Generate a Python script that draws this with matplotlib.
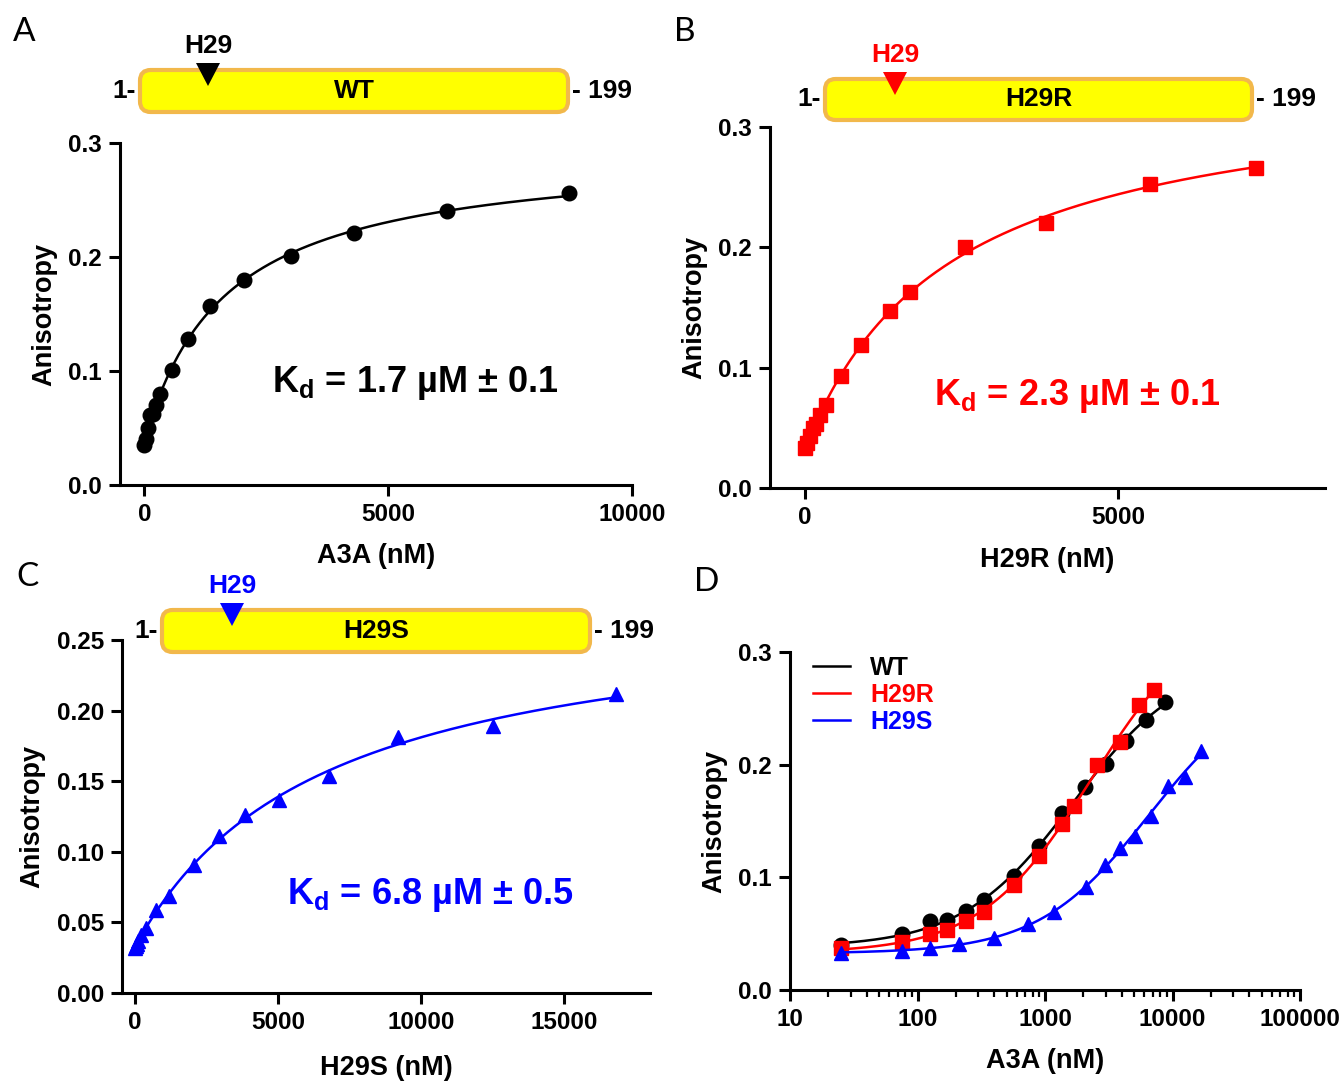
import numpy as np
import matplotlib
matplotlib.use("Agg")
import matplotlib.pyplot as plt
from matplotlib.patches import FancyBboxPatch, Polygon
from matplotlib.lines import Line2D

plt.rcParams['font.family'] = ['Liberation Sans', 'DejaVu Sans']
plt.rcParams['font.weight'] = 'bold'
plt.rcParams['mathtext.fontset'] = 'custom'
plt.rcParams['mathtext.rm'] = 'Liberation Sans:bold'
plt.rcParams['mathtext.it'] = 'Liberation Sans:bold'
plt.rcParams['mathtext.bf'] = 'Liberation Sans:bold'

# DATA
wt_conc = [0, 25, 75, 125, 170, 240, 330, 570, 900, 1350, 2050, 3000, 4300, 6200, 8700]
wt_aniso = [0.035, 0.040, 0.050, 0.061, 0.062, 0.070, 0.080, 0.101, 0.128, 0.157, 0.180, 0.201, 0.221, 0.240, 0.256]

h29r_conc = [0, 25, 75, 125, 170, 240, 330, 570, 900, 1350, 1680, 2550, 3850, 5500, 7200]
h29r_aniso = [0.033, 0.037, 0.043, 0.050, 0.053, 0.061, 0.069, 0.093, 0.119, 0.147, 0.163, 0.200, 0.220, 0.253, 0.266]

h29s_conc = [0, 25, 75, 125, 210, 400, 740, 1180, 2080, 2930, 3850, 5050, 6800, 9200, 12500, 16800]
h29s_aniso = [0.032, 0.033, 0.035, 0.037, 0.041, 0.046, 0.059, 0.069, 0.091, 0.111, 0.126, 0.137, 0.154, 0.181, 0.189, 0.212]

kd_labels = ['1.7 µM ± 0.1', '2.3 µM ± 0.1', '6.8 µM ± 0.5']
names = ['WT', 'H29R', 'H29S']
colors = ['black', '#FF0000', '#0000FF']
markers = ['o', 's', '^']

TICK_FS = 17.5
LABEL_FS = 19.5
W, H = 1341, 1085
fig = plt.figure(figsize=(W/100, H/100), dpi=100)


def box(l, r, t, b):
    return [l/W, 1 - b/H, (r - l)/W, (b - t)/H]


# FIT: one site binding, A = A0 + dA*x/(Kd+x), grid over Kd
def fit_binding(x, y):
    x = np.array(x, float)
    y = np.array(y, float)
    best = None
    for kd in np.logspace(2, 5, 3000):
        M = np.column_stack([np.ones_like(x), x/(kd + x)])
        coef = np.linalg.lstsq(M, y, rcond=None)[0]
        err = np.sum((M @ coef - y)**2)
        if best is None or err < best[0]:
            best = (err, kd, coef)
    return best[1], best[2]


def model(x, kd, coef):
    return coef[0] + coef[1]*x/(kd + x)


def style_axes(ax):
    for s in ['top', 'right']:
        ax.spines[s].set_visible(False)
    for s in ['left', 'bottom']:
        ax.spines[s].set_linewidth(2.2)
    ax.tick_params(which='major', direction='out', length=8, width=2.2, labelsize=TICK_FS, pad=5)
    ax.tick_params(which='minor', direction='out', length=5, width=1.6)
    for lab in ax.get_xticklabels() + ax.get_yticklabels():
        lab.set_fontweight('bold')


data = [(wt_conc, wt_aniso), (h29r_conc, h29r_aniso), (h29s_conc, h29s_aniso)]
fits = [fit_binding(c, a) for c, a in data]

# panel boxes (l, r, t, b) in pixels
boxes = [(120, 632, 143, 485), (770, 1325, 127, 488), (122, 650, 640, 993)]
xlims = [(-500, 10000), (-560, 8300), (-450, 18000)]
ylims = [(0, 0.3), (0, 0.3), (0, 0.25)]
yticks = [[0.0, 0.1, 0.2, 0.3], [0.0, 0.1, 0.2, 0.3], [0.0, 0.05, 0.10, 0.15, 0.20, 0.25]]
yfmt = ['{:.1f}', '{:.1f}', '{:.2f}']
xticks = [[0, 5000, 10000], [0, 5000], [0, 5000, 10000, 15000]]
xlabels = ['A3A (nM)', 'H29R (nM)', 'H29S (nM)']
xlabpad = [12, 13, 15]
kd_pos = [(415, 383), (1077, 396), (430, 895)]

for i in range(3):
    ax = fig.add_axes(box(*boxes[i]))
    conc, aniso = data[i]
    kd, coef = fits[i]
    xx = np.linspace(0, max(conc), 400)
    ax.plot(xx, model(xx, kd, coef), color=colors[i], linewidth=1.8, clip_on=False)
    ax.plot(conc, aniso, linestyle='none', marker=markers[i], markersize=10.5,
            color=colors[i], clip_on=False)
    ax.set_xlim(*xlims[i])
    ax.set_ylim(*ylims[i])
    ax.set_xticks(xticks[i])
    ax.set_yticks(yticks[i])
    ax.set_yticklabels([yfmt[i].format(v) for v in yticks[i]])
    ax.set_xlabel(xlabels[i], fontsize=LABEL_FS, fontweight='bold', labelpad=xlabpad[i])
    ax.set_ylabel('Anisotropy', fontsize=LABEL_FS, fontweight='bold', labelpad=8)
    style_axes(ax)
    fig.text(kd_pos[i][0]/W, 1 - kd_pos[i][1]/H, r'K$_\mathregular{d}$ = ' + kd_labels[i],
             fontsize=26, fontweight='bold', color=colors[i], ha='center', va='center')

# PANEL D, log scale
axd = fig.add_axes(box(790, 1300, 652, 990))
for i in range(3):
    conc = np.array(data[i][0], float)
    aniso = np.array(data[i][1], float)
    keep = conc > 0
    kd, coef = fits[i]
    xx = np.logspace(np.log10(conc[keep].min()), np.log10(conc.max()), 400)
    axd.plot(xx, model(xx, kd, coef), color=colors[i], linewidth=1.8)
    axd.plot(conc[keep], aniso[keep], linestyle='none', marker=markers[i],
             markersize=10.5, color=colors[i], clip_on=False)
axd.set_xscale('log')
axd.set_xlim(10, 100000)
axd.set_ylim(0, 0.3)
axd.set_xticks([10, 100, 1000, 10000, 100000])
axd.set_xticklabels(['10', '100', '1000', '10000', '100000'])
axd.set_yticks([0.0, 0.1, 0.2, 0.3])
axd.set_yticklabels(['0.0', '0.1', '0.2', '0.3'])
axd.set_xlabel('A3A (nM)', fontsize=LABEL_FS, fontweight='bold', labelpad=12)
axd.set_ylabel('Anisotropy', fontsize=LABEL_FS, fontweight='bold', labelpad=8)
style_axes(axd)
handles = [Line2D([], [], color=c, linewidth=1.8) for c in colors]
leg = axd.legend(handles, names, loc='upper left', bbox_to_anchor=(0.0, 1.055), frameon=False,
                 handlelength=1.5, handletextpad=0.8, labelspacing=0.12,
                 labelcolor=colors, prop={'weight': 'bold', 'size': 18})

# panel letters
for letter, (px, py) in zip('ABCD', [(24, 32), (685, 32), (27, 577), (707, 582)]):
    fig.text(px/W, 1 - py/H, letter, fontsize=24, fontweight='normal',
             family=['Lato', 'DejaVu Sans'], ha='center', va='center')

# protein diagrams
diagrams = [(140, 568, 70, 112, 208, 'WT', colors[0]),
            (825, 1252, 79, 120, 895, 'H29R', colors[1]),
            (162, 590, 610, 652, 232, 'H29S', colors[2])]
for l, r, t, b, tx, name, col in diagrams:
    rect = FancyBboxPatch((l/W, 1 - b/H), (r - l)/W, (b - t)/H,
                          boxstyle='round,pad=0,rounding_size=0.008',
                          transform=fig.transFigure, facecolor='#FFFF00',
                          edgecolor='#F2B84B', linewidth=3, mutation_aspect=W/H)
    fig.patches.append(rect)
    yc = (t + b)/2
    fig.text((l + r)/2/W, 1 - yc/H, name, fontsize=19, fontweight='bold', ha='center', va='center')
    fig.text((l - 4)/W, 1 - yc/H, '1-', fontsize=19, fontweight='bold', ha='right', va='center')
    fig.text((r + 4)/W, 1 - yc/H, '- 199', fontsize=19, fontweight='bold', ha='left', va='center')
    tri = Polygon([((tx - 12)/W, 1 - (t - 7)/H), ((tx + 12)/W, 1 - (t - 7)/H),
                   (tx/W, 1 - (t + 16)/H)], closed=True, transform=fig.transFigure,
                  facecolor=col, edgecolor='none')
    fig.patches.append(tri)
    fig.text(tx/W, 1 - (t - 24)/H, 'H29', fontsize=19, fontweight='bold', color=col,
             ha='center', va='center')

fig.savefig('out.png', dpi=100)
